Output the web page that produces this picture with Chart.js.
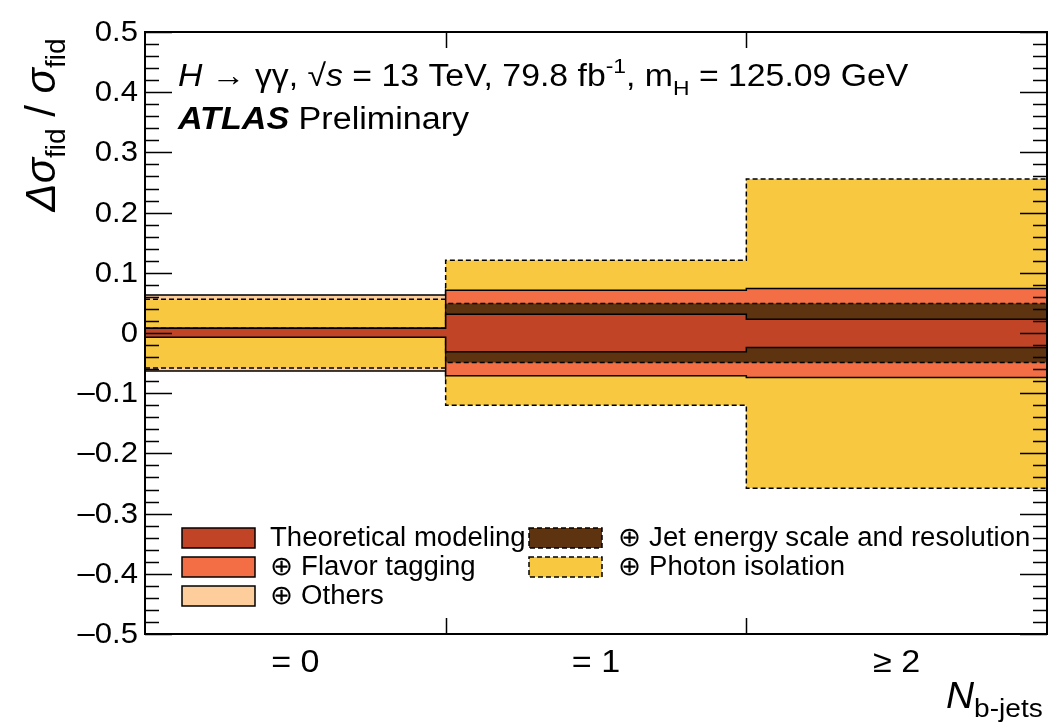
<!DOCTYPE html>
<html>
<head>
<meta charset="utf-8">
<script src="https://cdn.jsdelivr.net/npm/chart.js@4/dist/chart.umd.min.js"></script>
<style>
  html, body { margin: 0; padding: 0; background: #fff; }
  canvas { display: block; }
</style>
</head>
<body>
<canvas id="myChart" width="1049" height="723"></canvas>
<script>
(() => {

  // bin edges and labels of the N(b-jets) bins
  const binEdges = [0, 1, 2, 3];
  const binLabels = ['= 0', '= 1', '\u2265 2'];
  const yTickValues = [0.5, 0.4, 0.3, 0.2, 0.1, 0, -0.1, -0.2, -0.3, -0.4, -0.5];
  const yTickLabels = ['0.5', '0.4', '0.3', '0.2', '0.1', '0', '\u20130.1', '\u20130.2', '\u20130.3', '\u20130.4', '\u20130.5'];

  // relative uncertainty bands, up / down per bin
  const theoryUp = [0.008, 0.031, 0.023];
  const theoryDown = [-0.007, -0.031, -0.024];
  const jesUp = [0.008, 0.049, 0.049];
  const jesDown = [-0.007, -0.049, -0.049];
  const flavorUp = [0.008, 0.071, 0.074];
  const flavorDown = [-0.007, -0.071, -0.074];
  const photonUp = [0.056, 0.121, 0.256];
  const photonDown = [-0.058, -0.120, -0.258];
  const othersUp = [0.063, 0.075, 0.080];
  const othersDown = [-0.063, -0.075, -0.080];

  const FONT = '"Liberation Sans", Arial, Helvetica, sans-serif';

  const colors = {
    theory: '#c24427',
    flavor: '#f36e45',
    others: '#fdce9c',
    jes: '#5d3310',
    photon: '#f9c841'
  };

  // histogram-like steps: value i holds from edge i to edge i+1
  const toSteps = (vals) => binEdges.map((x, i) => ({ x, y: vals[Math.min(i, vals.length - 1)] }));

  // each band is a pair of lines; the lower one fills up to the upper one
  const band = (up, down, color, dashed) => {
    const base = {
      borderColor: '#000',
      borderWidth: 1.5,
      borderDash: dashed ? [5, 3] : [],
      stepped: 'before',
      pointRadius: 0
    };
    return [
      { ...base, data: toSteps(up), fill: false },
      { ...base, data: toSteps(down), fill: '-1', backgroundColor: color }
    ];
  };

  // first in the list ends up on top
  const datasets = [
    ...band(theoryUp, theoryDown, colors.theory, false),
    ...band(jesUp, jesDown, colors.jes, true),
    ...band(flavorUp, flavorDown, colors.flavor, false),
    ...band(photonUp, photonDown, colors.photon, true),
    ...band(othersUp, othersDown, colors.others, false)
  ];

  const legendItems = [
    { text: 'Theoretical modeling', color: colors.theory, dashed: false, col: 0, row: 0 },
    { text: '\u2295 Flavor tagging', color: colors.flavor, dashed: false, col: 0, row: 1 },
    { text: '\u2295 Others', color: colors.others, dashed: false, col: 0, row: 2 },
    { text: '\u2295 Jet energy scale and resolution', color: colors.jes, dashed: true, col: 1, row: 0 },
    { text: '\u2295 Photon isolation', color: colors.photon, dashed: true, col: 1, row: 1 }
  ];

  // draw a list of text pieces one after another, squeezed or widened by sx
  const drawRuns = (ctx, runs, x, y, sx = 1) => {
    ctx.save();
    ctx.translate(x, y);
    ctx.scale(sx, 1);
    let cx = 0;
    runs.forEach(r => {
      ctx.font = r.font;
      ctx.fillText(r.t, cx, r.dy || 0);
      cx += ctx.measureText(r.t).width;
    });
    ctx.restore();
  };
  const runsWidth = (ctx, runs) => runs.reduce((w, r) => { ctx.font = r.font; return w + ctx.measureText(r.t).width; }, 0);

  const wideText = (ctx, t, x, y, sx) => {
    ctx.save();
    ctx.translate(x, y);
    ctx.scale(sx, 1);
    ctx.fillText(t, 0, 0);
    ctx.restore();
  };

  const framePlugin = {
    id: 'rootFrame',
    afterDatasetsDraw(chart) {
      const { ctx, chartArea: a, scales: { x, y } } = chart;
      ctx.save();
      ctx.strokeStyle = '#000';
      ctx.fillStyle = '#000';

      // frame
      ctx.lineWidth = 2;
      ctx.strokeRect(a.left, a.top, a.right - a.left, a.bottom - a.top);

      // y ticks on both sides, pointing inwards
      ctx.lineWidth = 1.5;
      for (let i = 0; i <= 50; i++) {
        const v = -0.5 + i * 0.02;
        const py = Math.round(y.getPixelForValue(v)) + 0.5;
        const len = i % 5 === 0 ? 27 : 14;
        ctx.beginPath();
        ctx.moveTo(a.left, py); ctx.lineTo(a.left + len, py);
        ctx.moveTo(a.right, py); ctx.lineTo(a.right - len, py);
        ctx.stroke();
      }
      // x ticks at the bin edges
      binEdges.slice(1, -1).forEach(e => {
        const px = Math.round(x.getPixelForValue(e)) + 0.5;
        ctx.beginPath();
        ctx.moveTo(px, a.bottom); ctx.lineTo(px, a.bottom - 16);
        ctx.moveTo(px, a.top); ctx.lineTo(px, a.top + 16);
        ctx.stroke();
      });

      // y tick labels
      ctx.font = `29px ${FONT}`;
      ctx.textAlign = 'right';
      ctx.textBaseline = 'middle';
      yTickLabels.forEach((t, i) => {
        wideText(ctx, t, a.left - 7, y.getPixelForValue(yTickValues[i]) + 1, 1.07);
      });

      // bin labels
      ctx.textAlign = 'center';
      ctx.font = `31px ${FONT}`;
      binLabels.forEach((t, i) => {
        wideText(ctx, t, x.getPixelForValue((binEdges[i] + binEdges[i + 1]) / 2), a.bottom + 29, 1.1);
      });

      // axis titles
      ctx.textAlign = 'left';
      ctx.textBaseline = 'alphabetic';
      drawRuns(ctx, [
        { t: 'N', font: `italic 36px ${FONT}` },
        { t: 'b-jets', font: `26px ${FONT}`, dy: 9 }
      ], 946, 708, 1.08);

      const yTitle = [
        { t: '\u0394\u03c3', font: `italic 42px ${FONT}` },
        { t: 'fid', font: `28px ${FONT}`, dy: 10 },
        { t: ' / ', font: `42px ${FONT}` },
        { t: '\u03c3', font: `italic 42px ${FONT}` },
        { t: 'fid', font: `28px ${FONT}`, dy: 10 }
      ];
      ctx.save();
      ctx.translate(55, 125);
      ctx.rotate(-Math.PI / 2);
      drawRuns(ctx, yTitle, -runsWidth(ctx, yTitle) / 2, 0);
      ctx.restore();

      // header
      drawRuns(ctx, [
        { t: 'H', font: `italic 31px ${FONT}` },
        { t: ' \u2192 \u03b3\u03b3, \u221a', font: `31px ${FONT}` },
        { t: 's', font: `italic 31px ${FONT}` },
        { t: ' = 13 TeV, 79.8 fb', font: `31px ${FONT}` },
        { t: '-1', font: `21px ${FONT}`, dy: -13 },
        { t: ', m', font: `31px ${FONT}` },
        { t: 'H', font: `21px ${FONT}`, dy: 9 },
        { t: ' = 125.09 GeV', font: `31px ${FONT}` }
      ], 178, 86, 1.09);
      drawRuns(ctx, [
        { t: 'ATLAS', font: `italic bold 31px ${FONT}` },
        { t: ' Preliminary', font: `31px ${FONT}` }
      ], 178, 129, 1.1);

      // legend
      const colX = [[182, 270], [529, 618]];
      const rowY = [528, 557, 586];
      legendItems.forEach(it => {
        const bx = colX[it.col][0];
        const by = rowY[it.row];
        ctx.fillStyle = it.color;
        ctx.fillRect(bx, by, 73, 20);
        ctx.setLineDash(it.dashed ? [5, 3] : []);
        ctx.lineWidth = 1.5;
        ctx.strokeStyle = '#000';
        ctx.strokeRect(bx, by, 73, 20);
        ctx.setLineDash([]);
        ctx.fillStyle = '#000';
        ctx.font = `27px ${FONT}`;
        ctx.textBaseline = 'middle';
        wideText(ctx, it.text, colX[it.col][1], by + 11, 1.02);
      });

      ctx.restore();
    }
  };

  const ctx = document.getElementById('myChart');
  const myChart = new Chart(ctx, {
    type: 'line',
    data: { datasets },
    options: {
      responsive: false,
      animation: false,
      layout: { padding: { top: 32, right: 2, left: 0, bottom: 0 } },
      plugins: { legend: { display: false }, tooltip: { enabled: false } },
      scales: {
        x: {
          type: 'linear', min: 0, max: 3,
          grid: { display: false }, border: { display: false },
          ticks: { display: false },
          afterFit: (s) => { s.height = 89; }
        },
        y: {
          type: 'linear', min: -0.5, max: 0.5,
          grid: { display: false }, border: { display: false },
          ticks: { display: false },
          afterFit: (s) => { s.width = 145; }
        }
      }
    },
    plugins: [framePlugin]
  });

})();
</script>
</body>
</html>
